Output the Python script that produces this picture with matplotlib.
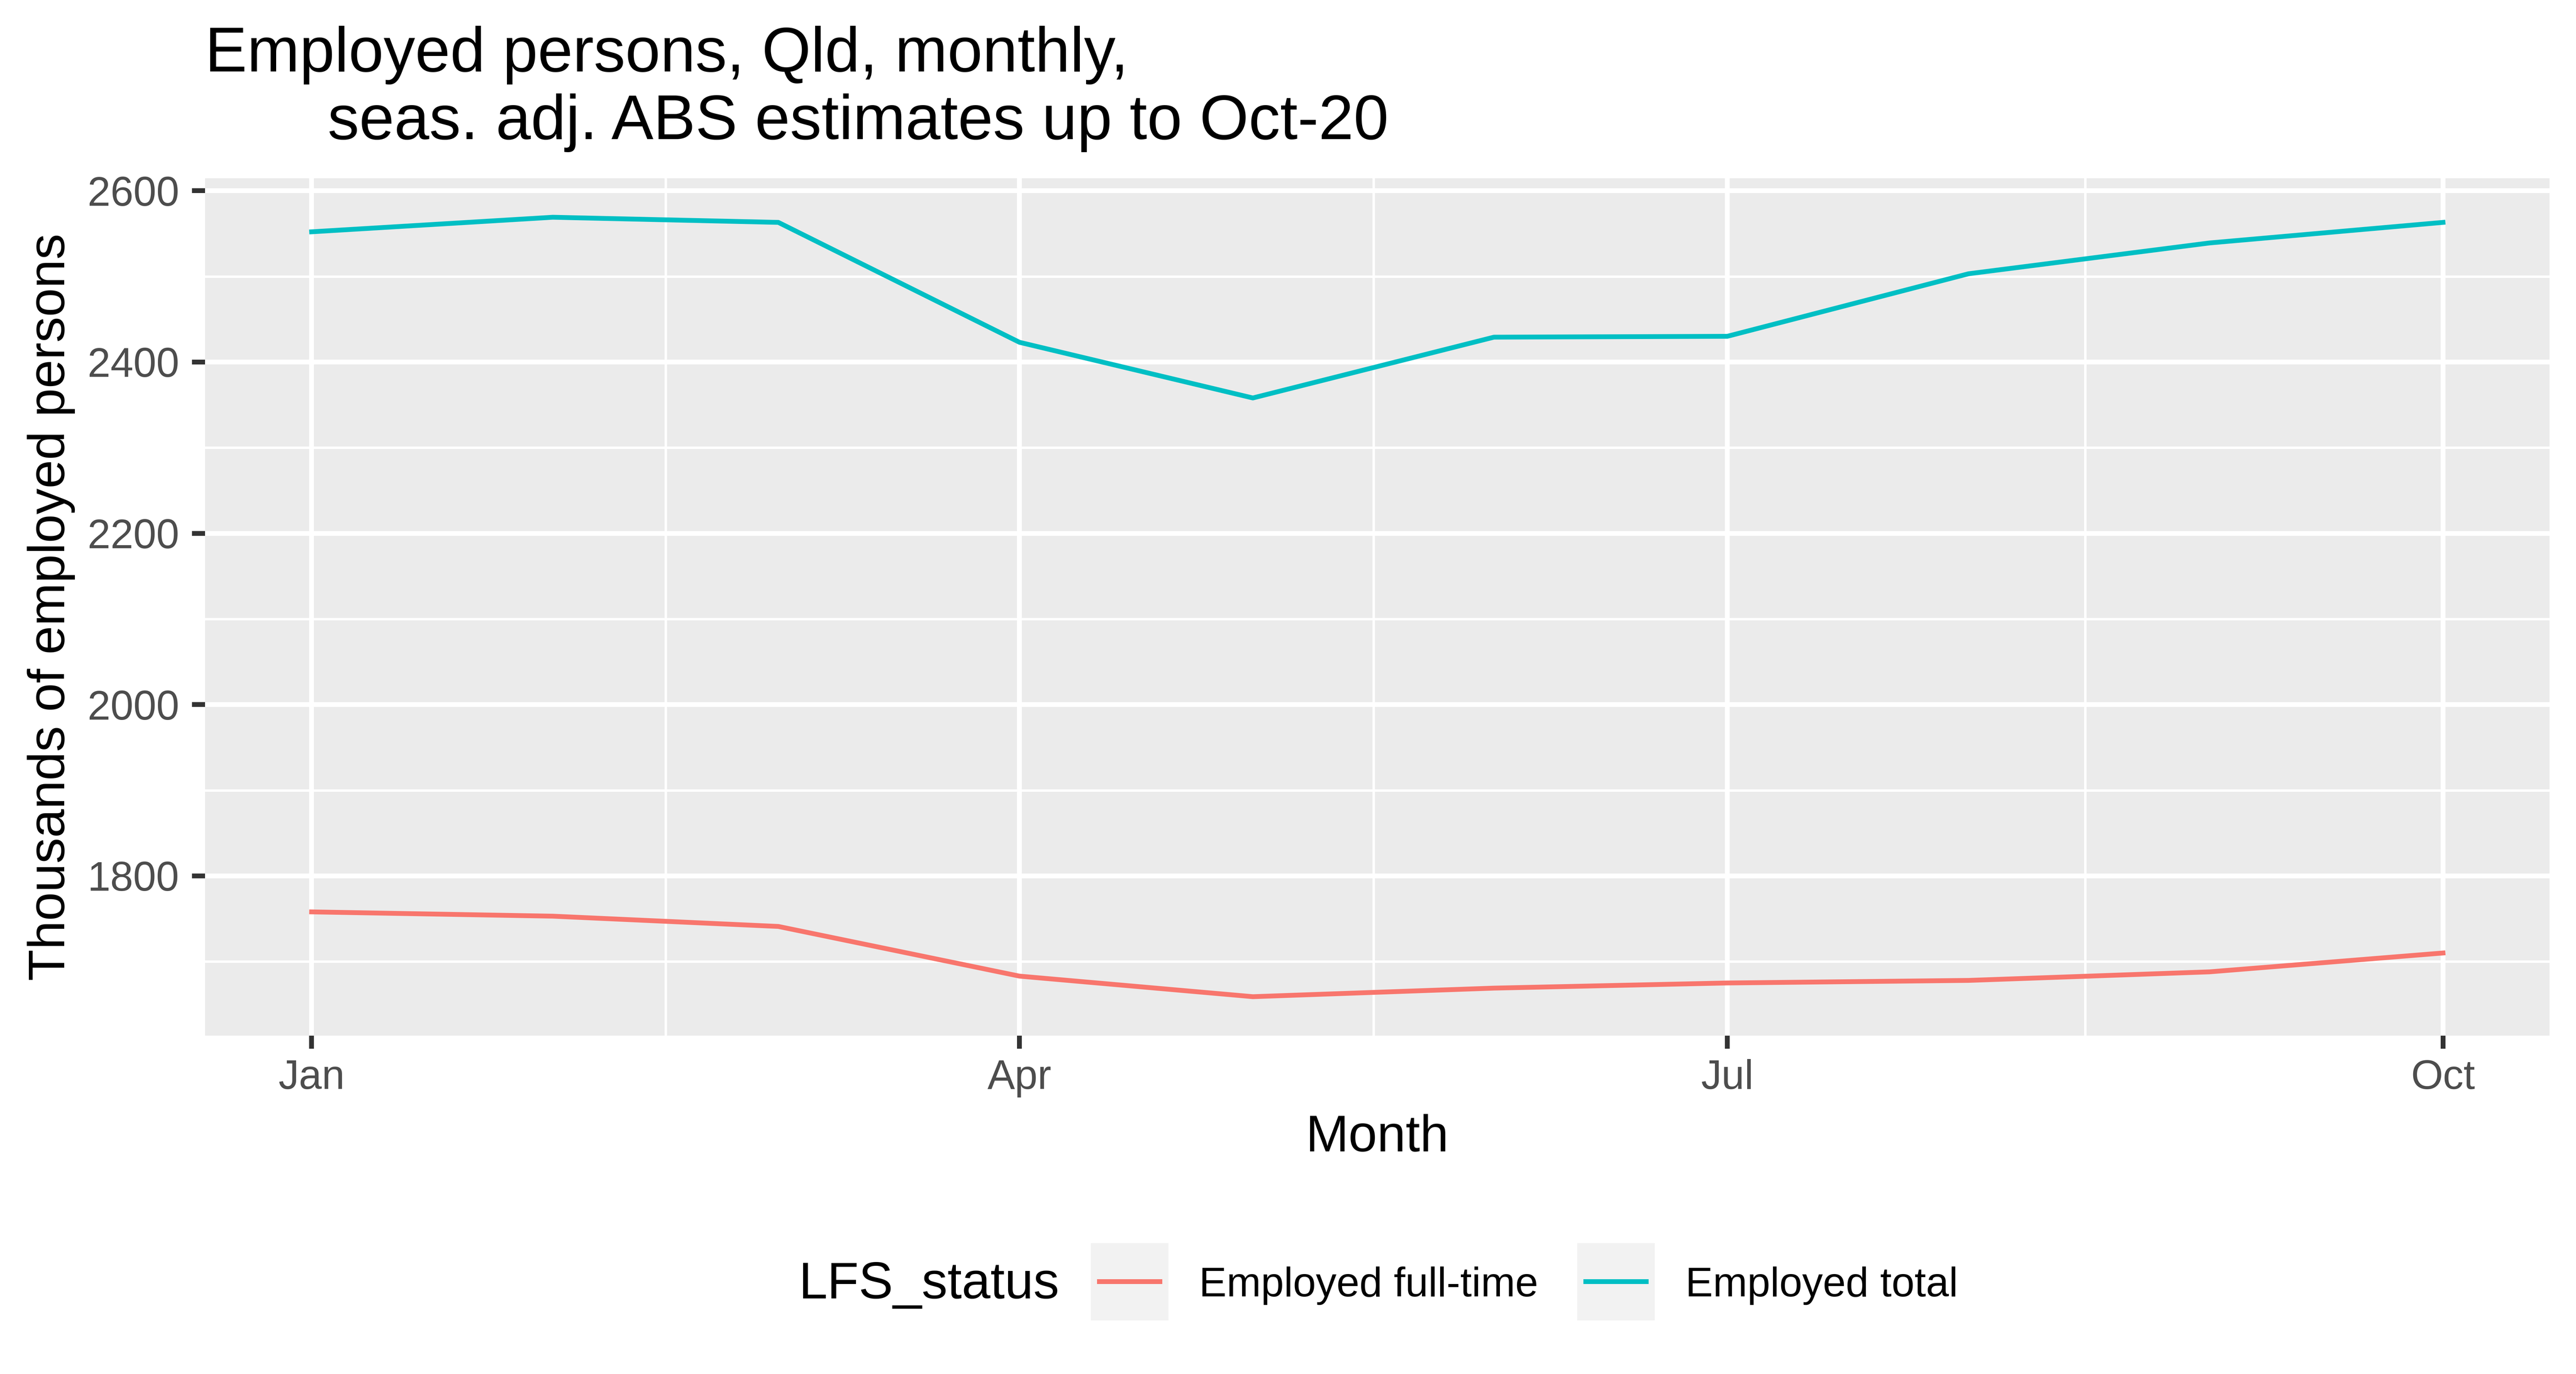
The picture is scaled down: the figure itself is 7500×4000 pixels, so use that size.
import matplotlib
matplotlib.use("Agg")
import matplotlib.pyplot as plt
import matplotlib.dates as mdates
import numpy as np
import pandas as pd
from matplotlib.legend_handler import HandlerBase
from matplotlib.lines import Line2D
from matplotlib.patches import Rectangle
from matplotlib.ticker import FixedLocator, MultipleLocator

# data (thousands of persons)
months = pd.date_range("2020-01-01", "2020-10-01", freq="MS")
employed_full_time = [1758, 1753, 1741, 1683, 1659, 1669, 1675, 1678, 1688, 1710]
employed_total = [2552, 2569, 2563, 2423, 2358, 2429, 2430, 2503, 2539, 2563]
series_labels = ["Employed full-time", "Employed total"]
series_colors = ["#F8766D", "#00BFC4"]
month_breaks = pd.to_datetime(["2020-01-01", "2020-04-01", "2020-07-01", "2020-10-01"])
month_labels = ["Jan", "Apr", "Jul", "Oct"]

title_line1 = "Employed persons, Qld, monthly,"
title_line2 = "       seas. adj. ABS estimates up to Oct-20"

plt.rcParams["font.family"] = ["Liberation Sans", "DejaVu Sans"]

W, H = 7500, 4000
BASE = 36.0
LW = 3.36


class KeyHandler(HandlerBase):
    """ggplot-like legend key: grey square with a short line."""

    def create_artists(self, legend, orig_handle, xdescent, ydescent, width, height, fontsize, trans):
        size = legend.handleheight * fontsize
        yc = 0.358 * fontsize
        bg = Rectangle((-xdescent, yc - size / 2), width, size, facecolor="#F2F2F2",
                       edgecolor="none", transform=trans)
        pad = 0.078 * width
        ln = Line2D([-xdescent + pad, -xdescent + width - pad], [yc, yc],
                    color=orig_handle.get_color(), linewidth=orig_handle.get_linewidth(),
                    solid_capstyle="butt", transform=trans)
        return [bg, ln]


fig = plt.figure(figsize=(W / 300, H / 300), dpi=300)
ax = fig.add_axes([597 / W, 1 - 3015 / H, (7423 - 597) / W, (3015 - 519) / H])
ax.set_facecolor("#EBEBEB")

lines = []
for vals, lab, col in zip([employed_full_time, employed_total], series_labels, series_colors):
    (ln,) = ax.plot(months, vals, color=col, linewidth=LW, label=lab, zorder=3,
                    solid_joinstyle="round")
    lines.append(ln)

ax.margins(x=0.05, y=0.05)

ax.xaxis.set_major_locator(FixedLocator(mdates.date2num(month_breaks)))
ax.set_xticklabels(month_labels)
brk = mdates.date2num(month_breaks)
ax.xaxis.set_minor_locator(FixedLocator((brk[:-1] + brk[1:]) / 2))
ax.yaxis.set_major_locator(MultipleLocator(200))
ax.yaxis.set_minor_locator(MultipleLocator(100))

ax.grid(which="major", color="white", linewidth=LW, zorder=1)
ax.grid(which="minor", color="white", linewidth=LW / 2, zorder=1)
ax.set_axisbelow(True)
for s in ax.spines.values():
    s.set_visible(False)

ax.tick_params(which="major", length=9.1, width=LW, color="#333333",
               labelsize=BASE * 0.8, labelcolor="#4D4D4D")
ax.tick_params(axis="y", pad=8.9)
ax.tick_params(axis="x", pad=7.2)
ax.tick_params(which="minor", length=0)

ax.set_xlabel("Month", fontsize=BASE, color="black")
ax.xaxis.label.set_va("baseline")
ax.xaxis.set_label_coords(0.5, (3015 - 3352) / (3015 - 519))
ax.set_ylabel("Thousands of employed persons", fontsize=BASE, color="black")
ax.yaxis.label.set_va("baseline")
ax.yaxis.set_label_coords((188 - 597) / (7423 - 597), 0.5)

fig.text(597 / W, 1 - 208 / H, title_line1, fontsize=44, va="baseline", ha="left")
fig.text(597 / W, 1 - 405 / H, title_line2, fontsize=44, va="baseline", ha="left")

fig.text(2326 / W, 1 - 3780 / H, "LFS_status", fontsize=BASE, va="baseline", ha="left")
fig.legend(handles=lines, labels=series_labels, loc="center left",
           bbox_to_anchor=(3176 / W, 1 - 3736 / H), ncol=2, frameon=False,
           fontsize=BASE * 0.8, handlelength=1.883, handleheight=1.883,
           handletextpad=0.74, columnspacing=0.95, borderpad=0, borderaxespad=0,
           handler_map={Line2D: KeyHandler()})

fig.savefig("out.png", dpi=300, facecolor="white")
